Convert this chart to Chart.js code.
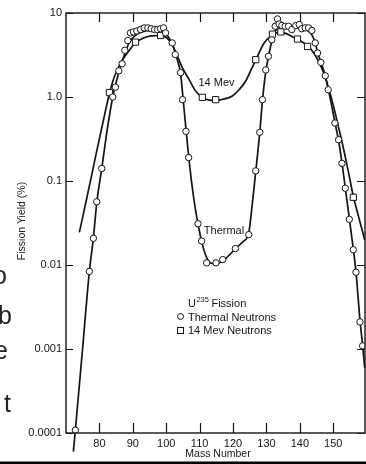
<!DOCTYPE html>
<html>
<head>
<meta charset="utf-8">
<title>U235 Fission Yield</title>
<script src="https://cdn.jsdelivr.net/npm/chart.js@4/dist/chart.umd.min.js"></script>
<style>
  html, body { margin: 0; padding: 0; background: #fff; overflow: hidden; }
  canvas { display: block; }
</style>
</head>
<body>
<canvas id="yieldChart" width="366" height="464"></canvas>
<script>
// Axis ticks
const xTickValues = [80, 90, 100, 110, 120, 130, 140, 150];
const yTickValues = [0.0001, 0.001, 0.01, 0.1, 1, 10];
const yTickLabels = ['0.0001', '0.001', '0.01', '0.1', '1.0', '10'];

// Measured yields, thermal neutrons (mass number, % yield)
const thermalMass = [72.8, 77.0, 78.2, 79.2, 80.7, 84.0, 84.8, 85.8, 86.8, 87.6, 88.5, 89.3, 90.2, 91.2,
  92.3, 93.4, 94.5, 95.5, 96.5, 97.4, 98.3, 99.2, 99.8, 101.8, 102.7, 104.3, 104.9, 105.9, 106.7,
  109.5, 110.6, 112.1, 114.9, 116.9, 120.7, 124.7, 126.8, 128.0, 128.8, 129.8, 130.6, 131.6, 132.6,
  133.3, 133.8, 134.6, 135.6, 136.6, 137.6, 138.8, 139.8, 140.6, 141.6, 142.6, 143.6, 144.6, 145.3,
  146.3, 147.6, 148.5, 150.5, 151.6, 152.6, 153.6, 154.8, 156.0, 156.8, 158.0, 158.8];
const thermalYield = [0.000108, 0.0084, 0.0208, 0.0565, 0.141, 1.0, 1.31, 2.05, 2.49, 3.6, 4.7, 5.8, 5.96, 6.1,
  6.35, 6.65, 6.65, 6.5, 6.35, 6.35, 6.5, 6.65, 5.8, 4.4, 3.2, 1.95, 0.93, 0.39, 0.19,
  0.031, 0.0193, 0.0106, 0.0106, 0.0116, 0.0157, 0.023, 0.132, 0.38, 0.93, 2.1, 3.05, 4.8, 6.95,
  8.5, 7.4, 7.1, 6.95, 6.95, 6.35, 7.1, 7.3, 6.5, 6.65, 6.65, 6.2, 4.4, 3.34,
  2.58, 1.79, 1.22, 0.49, 0.31, 0.162, 0.082, 0.035, 0.0152, 0.0082, 0.0021, 0.00109];

// Measured yields, 14 MeV neutrons
const mev14Mass = [83.0, 90.8, 98.3, 110.8, 114.8, 126.8, 131.8, 134.3, 139.3, 142.3, 156.0];
const mev14Yield = [1.13, 4.5, 5.4, 0.99, 0.93, 2.78, 5.6, 5.96, 4.9, 4.0, 0.064];

// Smooth curves drawn through the measurements
const thermalCurveMass = [72.2, 72.8, 75.0, 77.0, 78.2, 79.2, 80.7, 82.3, 84.0, 85.8, 87.5, 89.0, 91.0, 93.0,
  95.0, 97.0, 99.0, 100.5, 102.0, 103.3, 104.3, 105.0, 105.9, 106.7, 107.7, 108.6, 109.5, 110.6,
  112.0, 113.5, 115.0, 117.0, 119.0, 121.0, 123.0, 124.7, 125.8, 126.8, 128.0, 128.8, 129.8, 130.6,
  131.6, 133.0, 135.0, 137.5, 140.0, 142.0, 143.6, 144.6, 145.3, 146.3, 147.6, 148.5, 150.5, 151.6,
  152.6, 153.6, 154.8, 156.0, 156.8, 158.0, 158.8, 159.4];
const thermalCurveYield = [0.00006, 0.000108, 0.00105, 0.0084, 0.021, 0.055, 0.14, 0.4, 1.0, 1.95, 3.2, 4.5, 5.5, 6.0,
  6.2, 6.2, 6.0, 5.3, 4.1, 2.8, 1.9, 1.0, 0.42, 0.2, 0.09, 0.05, 0.031, 0.019,
  0.0125, 0.0105, 0.0104, 0.0112, 0.0133, 0.016, 0.019, 0.024, 0.055, 0.13, 0.38, 0.9, 2.0, 3.0,
  4.6, 6.4, 6.9, 6.9, 6.7, 6.3, 5.5, 4.4, 3.4, 2.6, 1.8, 1.25, 0.5, 0.3,
  0.165, 0.083, 0.036, 0.0155, 0.0083, 0.0022, 0.0011, 0.0006];

const mev14CurveMass = [74.0, 76.0, 78.0, 80.0, 82.0, 83.0, 84.5, 86.5, 88.5, 90.8, 93.0, 95.5, 98.0, 100.0,
  101.5, 103.0, 104.9, 106.9, 108.8, 110.8, 112.8, 114.8, 117.0, 119.8, 121.8, 123.8, 125.5, 126.8,
  128.0, 129.3, 131.3, 133.5, 135.5, 137.5, 139.3, 141.0, 142.5, 144.0, 145.5, 147.0, 148.5, 150.0,
  151.5, 153.0, 154.5, 156.0, 157.7, 159.4];
const mev14CurveYield = [0.0245, 0.057, 0.135, 0.32, 0.74, 1.1, 1.75, 2.6, 3.4, 4.4, 5.0, 5.35, 5.4, 5.1,
  4.4, 3.3, 2.2, 1.6, 1.18, 0.99, 0.92, 0.91, 0.94, 1.03, 1.22, 1.55, 2.15, 2.75,
  3.5, 4.4, 5.3, 5.85, 5.75, 5.3, 4.85, 4.45, 4.0, 3.4, 2.7, 2.0, 1.3, 0.8,
  0.45, 0.25, 0.13, 0.066, 0.036, 0.02];

const INK = '#141414';
const FONT = '"Liberation Sans", Arial, sans-serif';

const toPoints = (xs, ys) => xs.map((v, i) => ({ x: v, y: ys[i] }));

// Frame, inward tick marks, axis titles, curve labels and the key
const figureDecor = {
  id: 'figureDecor',
  afterDraw(chart) {
    const { ctx, chartArea: a, scales } = chart;
    const xs = scales.x, ys = scales.y;
    ctx.save();

    // plot frame
    ctx.strokeStyle = INK;
    ctx.lineWidth = 1.4;
    ctx.strokeRect(a.left, a.top, a.right - a.left, a.bottom - a.top);

    // tick marks pointing into the plot
    ctx.lineWidth = 1.2;
    ctx.beginPath();
    xTickValues.forEach(v => {
      const px = Math.round(xs.getPixelForValue(v)) + 0.5;
      ctx.moveTo(px, a.bottom); ctx.lineTo(px, a.bottom - 10);
      ctx.moveTo(px, a.top); ctx.lineTo(px, a.top + 9);
    });
    yTickValues.forEach(v => {
      const py = Math.round(ys.getPixelForValue(v)) + 0.5;
      ctx.moveTo(a.left, py); ctx.lineTo(a.left + 7, py);
      ctx.moveTo(a.right, py); ctx.lineTo(a.right - 8, py);
    });
    ctx.stroke();

    ctx.fillStyle = INK;
    ctx.textBaseline = 'middle';
    ctx.textAlign = 'center';

    // axis titles
    ctx.font = '10.5px ' + FONT;
    ctx.fillText('Mass Number', 218, 454);
    ctx.save();
    ctx.translate(22, 221);
    ctx.rotate(-Math.PI / 2);
    ctx.fillText('Fission Yield (%)', 0, 0);
    ctx.restore();

    // curve labels
    ctx.font = '11px ' + FONT;
    ctx.fillText('14 Mev', 216.5, 82.5);
    ctx.fillText('Thermal', 224, 231);

    // key
    ctx.textAlign = 'left';
    ctx.textBaseline = 'alphabetic';
    let kx = 188;
    ctx.font = '11px ' + FONT;
    ctx.fillText('U', kx, 307);
    kx += ctx.measureText('U').width + 0.5;
    ctx.font = '7.5px ' + FONT;
    ctx.fillText('235', kx, 302);
    kx += ctx.measureText('235').width + 2.5;
    ctx.font = '11px ' + FONT;
    ctx.fillText('Fission', kx, 307);
    ctx.fillText('Thermal Neutrons', 188, 320.5);
    ctx.fillText('14 Mev Neutrons', 188, 334);

    ctx.lineWidth = 1;
    ctx.fillStyle = '#fff';
    ctx.beginPath();
    ctx.arc(180.5, 316.5, 3, 0, Math.PI * 2);
    ctx.fill(); ctx.stroke();
    ctx.fillRect(177.5, 327.5, 6, 6);
    ctx.strokeRect(177.5, 327.5, 6, 6);

    // lettering at the left edge
    ctx.fillStyle = '#242424';
    ctx.font = '25px ' + FONT;
    ctx.fillText('o', -7, 284);
    ctx.fillText('b', -2, 324);
    ctx.fillText('e', -6, 359);
    ctx.fillText('t', 4, 412);

    // rule along the bottom edge
    ctx.fillStyle = '#000';
    ctx.fillRect(0, 461.5, 366, 2.5);

    ctx.restore();
  }
};

new Chart(document.getElementById('yieldChart'), {
  type: 'line',
  data: {
    datasets: [
      {
        label: 'Thermal Neutrons',
        data: toPoints(thermalMass, thermalYield),
        showLine: false,
        pointStyle: 'circle',
        pointRadius: 3.2,
        pointBackgroundColor: '#fff',
        pointBorderColor: INK,
        pointBorderWidth: 1,
        order: 0
      },
      {
        label: '14 Mev Neutrons',
        data: toPoints(mev14Mass, mev14Yield),
        showLine: false,
        pointStyle: 'rect',
        pointRadius: 4.4,
        pointBackgroundColor: '#fff',
        pointBorderColor: INK,
        pointBorderWidth: 1,
        order: 0
      },
      {
        label: 'Thermal curve',
        data: toPoints(thermalCurveMass, thermalCurveYield),
        borderColor: INK,
        borderWidth: 1.7,
        pointRadius: 0,
        cubicInterpolationMode: 'monotone',
        clip: false,
        order: 1
      },
      {
        label: '14 Mev curve',
        data: toPoints(mev14CurveMass, mev14CurveYield),
        borderColor: INK,
        borderWidth: 1.7,
        pointRadius: 0,
        cubicInterpolationMode: 'monotone',
        clip: false,
        order: 1
      }
    ]
  },
  options: {
    responsive: false,
    animation: false,
    devicePixelRatio: 1,
    layout: { autoPadding: false, padding: { left: 0, right: 1, top: 13, bottom: 0 } },
    plugins: { legend: { display: false }, tooltip: { enabled: false } },
    scales: {
      x: {
        type: 'linear',
        min: 70,
        max: 159.5,
        grid: { display: false, drawTicks: false },
        border: { display: false },
        afterBuildTicks: s => { s.ticks = xTickValues.map(v => ({ value: v })); },
        afterFit: s => { s.height = 31; s.paddingLeft = 0; s.paddingRight = 0; },
        ticks: {
          padding: 4,
          maxRotation: 0,
          color: INK,
          font: { family: FONT, size: 11 },
          callback: v => String(v)
        }
      },
      y: {
        type: 'logarithmic',
        min: 0.0001,
        max: 10,
        grid: { display: false, drawTicks: false },
        border: { display: false },
        afterBuildTicks: s => { s.ticks = yTickValues.map(v => ({ value: v })); },
        afterFit: s => { s.width = 66; s.paddingTop = 0; s.paddingBottom = 0; },
        ticks: {
          padding: 4,
          color: INK,
          font: { family: FONT, size: 11 },
          callback: v => {
            const i = yTickValues.findIndex(t => Math.abs(Math.log10(t) - Math.log10(v)) < 1e-6);
            return i >= 0 ? yTickLabels[i] : '';
          }
        }
      }
    }
  },
  plugins: [figureDecor]
});
</script>
</body>
</html>
